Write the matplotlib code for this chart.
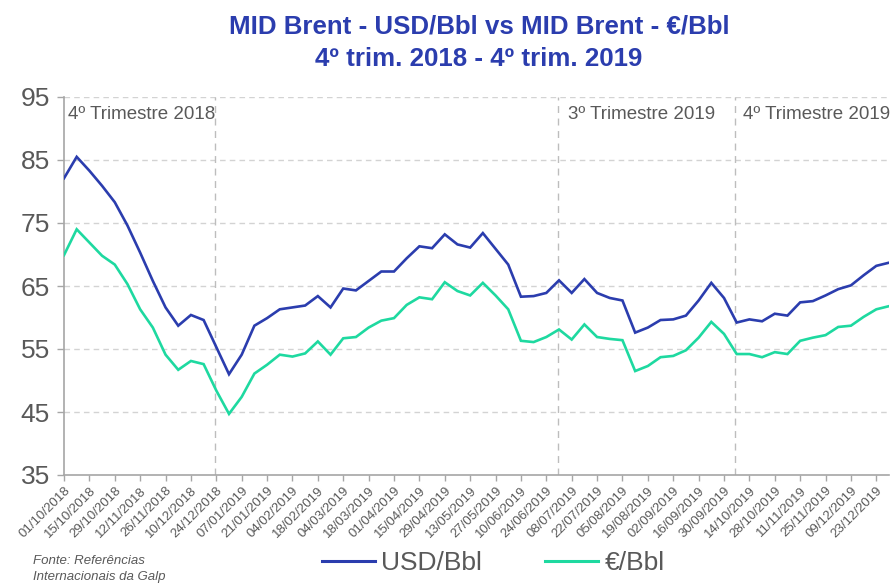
import numpy as np
import matplotlib
matplotlib.use("Agg")
import matplotlib.pyplot as plt
from matplotlib.lines import Line2D

plt.rcParams['font.family'] = ['Liberation Sans', 'DejaVu Sans']

tick_labels = ["01/10/2018", "15/10/2018", "29/10/2018", "12/11/2018", "26/11/2018",
               "10/12/2018", "24/12/2018", "07/01/2019", "21/01/2019", "04/02/2019",
               "18/02/2019", "04/03/2019", "18/03/2019", "01/04/2019", "15/04/2019",
               "29/04/2019", "13/05/2019", "27/05/2019", "10/06/2019", "24/06/2019",
               "08/07/2019", "22/07/2019", "05/08/2019", "19/08/2019", "02/09/2019",
               "16/09/2019", "30/09/2019", "14/10/2019", "28/10/2019", "11/11/2019",
               "25/11/2019", "09/12/2019", "23/12/2019"]

usd_bbl = [82.1, 85.5, 83.3, 80.9, 78.3, 74.6, 70.3, 65.8, 61.6, 58.7,
           60.4, 59.6, 55.3, 51.0, 54.1, 58.7, 59.9, 61.3, 61.6, 61.9,
           63.4, 61.6, 64.6, 64.3, 65.8, 67.3, 67.3, 69.4, 71.3, 71.0,
           73.2, 71.6, 71.1, 73.4, 70.9, 68.4, 63.3, 63.4, 63.9, 65.9,
           63.9, 66.1, 63.9, 63.1, 62.7, 57.6, 58.4, 59.6, 59.7, 60.3,
           62.7, 65.5, 63.1, 59.2, 59.7, 59.4, 60.6, 60.3, 62.4, 62.6,
           63.5, 64.5, 65.1, 66.7, 68.2, 68.7]

eur_bbl = [69.9, 74.0, 71.9, 69.8, 68.4, 65.3, 61.3, 58.4, 54.1, 51.7,
           53.1, 52.6, 48.4, 44.7, 47.4, 51.1, 52.5, 54.1, 53.8, 54.3,
           56.2, 54.1, 56.7, 56.9, 58.4, 59.5, 59.9, 62.0, 63.2, 62.9,
           65.6, 64.2, 63.5, 65.5, 63.5, 61.3, 56.3, 56.1, 56.9, 58.1,
           56.5, 58.9, 56.9, 56.6, 56.4, 51.5, 52.3, 53.7, 53.9, 54.8,
           56.8, 59.3, 57.4, 54.2, 54.2, 53.7, 54.5, 54.2, 56.3, 56.8,
           57.2, 58.5, 58.7, 60.1, 61.3, 61.8]

quarter_labels = ["4º Trimestre 2018", "3º Trimestre 2019", "4º Trimestre 2019"]
quarter_starts = [0, 38.9, 52.85]
quarter_bounds = [11.9, 38.9, 52.85]
quarter_pad = [0.35, 0.8, 0.65]

BLUE = "#2B3DAE"
GREEN = "#1ED9A0"
GRAY = "#595959"

fig = plt.figure(figsize=(8.92, 5.84), dpi=100)
ax = fig.add_axes([64/892, 1-475/584, (889-64)/892, (475-97)/584])

x = np.arange(len(usd_bbl))
ax.plot(x, usd_bbl, color=BLUE, lw=1.9, zorder=3, solid_joinstyle='miter')
ax.plot(x, eur_bbl, color=GREEN, lw=1.9, zorder=3, solid_joinstyle='miter')

ax.set_xlim(0, len(usd_bbl) - 1)
ax.set_ylim(35, 95)
ax.set_yticks(np.arange(35, 96, 10))
ax.set_xticks(np.arange(0, len(usd_bbl), 2))
ax.set_xticklabels(tick_labels, rotation=45, ha='right', rotation_mode='anchor',
                   fontsize=9.5, color=GRAY)
ax.tick_params(axis='y', labelsize=19, labelcolor=GRAY, length=5, width=1,
               color="#A6A6A6", pad=5)
ax.tick_params(axis='x', length=4, width=1, color="#A6A6A6", pad=3)

for v in np.arange(45, 96, 10):
    ax.axhline(v, color="#D3D3D3", lw=1, ls=(0, (4, 3)), zorder=1)
for b in quarter_bounds:
    ax.axvline(b, color="#BDBDBD", lw=1, ls=(0, (5, 4)), zorder=1)

for lab, xs, p in zip(quarter_labels, quarter_starts, quarter_pad):
    ax.text(xs + p, 92.2, lab, fontsize=13.5, color=GRAY, ha='left', va='center')

for s in ['top', 'right']:
    ax.spines[s].set_visible(False)
for s in ['left', 'bottom']:
    ax.spines[s].set_color("#A6A6A6")
    ax.spines[s].set_linewidth(1.2)

fig.text(0.537, 1-43/584, "MID Brent - USD/Bbl vs MID Brent - €/Bbl\n4º trim. 2018 - 4º trim. 2019",
         ha='center', va='center', fontsize=18.6, fontweight='bold', color=BLUE,
         linespacing=1.45)

fig.text(33/892, 1-569/584, "Fonte: Referências\nInternacionais da Galp", ha='left',
         va='center', fontsize=9.5, style='italic', color=GRAY, linespacing=1.35)

handles = [Line2D([], [], color=BLUE, lw=2.2), Line2D([], [], color=GREEN, lw=2.2)]
fig.legend(handles, ["USD/Bbl", "€/Bbl"], loc='center', bbox_to_anchor=(0.553, 1-563/584),
           ncol=2, frameon=False, fontsize=19, labelcolor=GRAY, handlelength=2.0,
           handletextpad=0.25, columnspacing=2.4, borderpad=0, borderaxespad=0)

fig.savefig("out.png", dpi=100)
